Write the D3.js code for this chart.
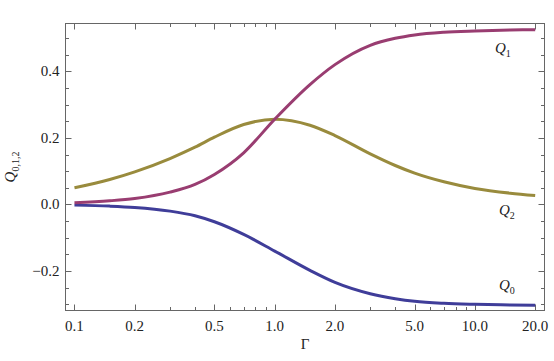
<!DOCTYPE html>
<html>
<head>
<meta charset="utf-8">
<script src="https://cdn.jsdelivr.net/npm/d3@7"></script>
<style>
  body { margin: 0; background: #fff; }
  svg text { font-family: "Liberation Serif", "DejaVu Serif", serif; }
</style>
</head>
<body>
<div id="chart"></div>
<script>
// values (log x axis)
const gamma = [0.1, 0.15, 0.2, 0.3, 0.4, 0.5, 0.7, 1.0, 1.5, 2, 3, 4, 5, 7, 10, 15, 20];
const q0 = [-0.002, -0.005, -0.009, -0.020, -0.034, -0.052, -0.090, -0.140, -0.198, -0.234, -0.268, -0.283, -0.291, -0.297, -0.300, -0.302, -0.303];
const q1 = [0.005, 0.011, 0.018, 0.037, 0.060, 0.090, 0.155, 0.256, 0.360, 0.420, 0.478, 0.499, 0.509, 0.517, 0.521, 0.524, 0.525];
const q2 = [0.050, 0.075, 0.098, 0.138, 0.172, 0.202, 0.240, 0.256, 0.238, 0.207, 0.152, 0.117, 0.094, 0.068, 0.048, 0.034, 0.027];

const xMajor = [0.1, 0.2, 0.5, 1, 2, 5, 10, 20];
const xMinor = [0.3, 0.4, 0.6, 0.7, 0.8, 0.9, 3, 4, 6, 7, 8, 9];
const yMajor = [-0.2, 0.0, 0.2, 0.4];

const W = 554, H = 361;
const mLeft = 65.5, mRight = 544.5, mTop = 23.5, mBottom = 310.5;

const svg = d3.select("#chart").append("svg").attr("width", W).attr("height", H);

const x = d3.scaleLog().domain([0.0902, 22.26]).range([mLeft, mRight]);
const y = d3.scaleLinear().domain([-0.3185, 0.5435]).range([mBottom, mTop]);

// minor y ticks every 0.05
const yMinor = d3.range(-0.30, 0.55, 0.05).map(v => +v.toFixed(2))
  .filter(v => !yMajor.some(m => Math.abs(m - v) < 1e-6));

const frameCol = "#666";
const g = svg.append("g");

// ticks (inward, on all four sides)
function xTicks(vals, len) {
  vals.forEach(v => {
    const px = Math.round(x(v)) + 0.5;
    g.append("line").attr("x1", px).attr("x2", px).attr("y1", mBottom).attr("y2", mBottom - len).attr("stroke", frameCol);
    g.append("line").attr("x1", px).attr("x2", px).attr("y1", mTop).attr("y2", mTop + len).attr("stroke", frameCol);
  });
}
function yTicks(vals, len) {
  vals.forEach(v => {
    const py = Math.round(y(v)) + 0.5;
    g.append("line").attr("y1", py).attr("y2", py).attr("x1", mLeft).attr("x2", mLeft + len).attr("stroke", frameCol);
    g.append("line").attr("y1", py).attr("y2", py).attr("x1", mRight).attr("x2", mRight - len).attr("stroke", frameCol);
  });
}
xTicks(xMajor, 6); xTicks(xMinor, 3.5);
yTicks(yMajor, 6); yTicks(yMinor, 3.5);

// frame
g.append("rect").attr("x", mLeft).attr("y", mTop).attr("width", mRight - mLeft).attr("height", mBottom - mTop)
  .attr("fill", "none").attr("stroke", frameCol);

// tick labels
g.selectAll("text.xl").data(xMajor).enter().append("text")
  .attr("x", d => x(d)).attr("y", 330.5).attr("text-anchor", "middle")
  .attr("font-size", 15).attr("fill", "#222")
  .text(d => d.toFixed(1));
g.selectAll("text.yl").data(yMajor).enter().append("text")
  .attr("x", 59.5).attr("y", d => y(d) + 5).attr("text-anchor", "end")
  .attr("font-size", 15).attr("fill", "#222")
  .text(d => (d < 0 ? "\u2212" : "") + Math.abs(d).toFixed(1));

// axis labels
svg.append("text").attr("x", 305).attr("y", 349).attr("text-anchor", "middle")
  .attr("font-size", 15).attr("fill", "#222").text("\u0393");
const yl = svg.append("text").attr("transform", "translate(15,167) rotate(-90)")
  .attr("text-anchor", "middle").attr("font-size", 15).attr("fill", "#222");
yl.append("tspan").attr("font-style", "italic").text("Q");
yl.append("tspan").attr("font-size", 10).attr("dy", 4).text("0,1,2");

// curves
const series = [
  { name: "0", vals: q0, color: "#3f3d99" },
  { name: "2", vals: q2, color: "#998b3d" },
  { name: "1", vals: q1, color: "#993d71" }
];
const line = d3.line()
  .x((d, i) => x(gamma[i]))
  .y(d => y(d))
  .curve(d3.curveMonotoneX);

svg.append("g").selectAll("path").data(series).enter().append("path")
  .attr("d", d => line(d.vals))
  .attr("fill", "none")
  .attr("stroke", d => d.color)
  .attr("stroke-width", 3)
  .attr("stroke-linecap", "butt");

// curve labels
const labels = [
  { sub: "1", lx: 495, ly: 53 },
  { sub: "2", lx: 499, ly: 215 },
  { sub: "0", lx: 499, ly: 290 }
];
labels.forEach(l => {
  const t = svg.append("text").attr("x", l.lx).attr("y", l.ly).attr("font-size", 15).attr("fill", "#222");
  t.append("tspan").attr("font-style", "italic").text("Q");
  t.append("tspan").attr("font-size", 10).attr("dy", 4).text(l.sub);
});
</script>
</body>
</html>
